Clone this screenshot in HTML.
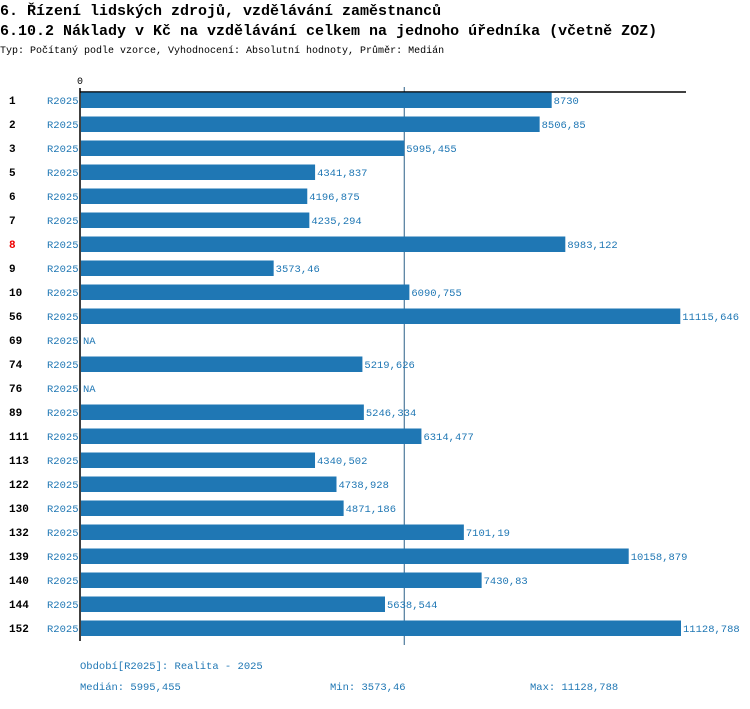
<!DOCTYPE html>
<html><head><meta charset="utf-8"><style>
body{margin:0;background:#fff;width:750px;height:704px;overflow:hidden;font-family:"Liberation Mono",monospace}
svg text{font-family:"Liberation Mono",monospace}
</style></head><body>
<svg id="c" width="750" height="704">
<text x="0" y="15" font-size="15" font-weight="bold">6. Řízení lidských zdrojů, vzdělávání zaměstnanců</text>
<text x="0" y="35" font-size="15" font-weight="bold">6.10.2 Náklady v Kč na vzdělávání celkem na jednoho úředníka (včetně ZOZ)</text>
<text x="0" y="53" font-size="10">Typ: Počítaný podle vzorce, Vyhodnocení: Absolutní hodnoty, Průměr: Medián</text>
<text x="77" y="84" font-size="10">0</text>
<line id="med" y1="87" y2="645" stroke="#2a5f88" stroke-width="1"/>
<line x1="80" y1="92" x2="686" y2="92" stroke="#000" stroke-width="1.5"/>
<line x1="80" y1="88" x2="80" y2="641" stroke="#000" stroke-width="1.5"/>
<g id="bars"></g>
<text x="80" y="669" font-size="10.5" fill="#1f77b4">Období[R2025]: Realita - 2025</text>
<text x="80" y="690" font-size="10.5" fill="#1f77b4">Medián: 5995,455</text>
<text x="330" y="690" font-size="10.5" fill="#1f77b4">Min: 3573,46</text>
<text x="530" y="690" font-size="10.5" fill="#1f77b4">Max: 11128,788</text>
</svg>
<script>
const categories=["1","2","3","5","6","7","8","9","10","56","69","74","76","89","111","113","122","130","132","139","140","144","152"];
const values=[8730,8506.85,5995.455,4341.837,4196.875,4235.294,8983.122,3573.46,6090.755,11115.646,null,5219.626,null,5246.334,6314.477,4340.502,4738.928,4871.186,7101.19,10158.879,7430.83,5638.544,11128.788];
const median=5995.455;
const maxV=11128.788;
const x=v=>81+v*600/maxV;
const y=i=>100+i*24;
const NS="http://www.w3.org/2000/svg";
const g=document.getElementById('bars');
function mk(t,a){const e=document.createElementNS(NS,t);for(const k in a)e.setAttribute(k,a[k]);return e;}
const fmt=v=>String(v).replace('.',',');
categories.forEach((c,i)=>{
  const l=mk('text',{x:9,y:y(i)+4,'font-size':11,'font-weight':'bold',fill:c==="8"?"#e00":"#000"});
  
  
  l.textContent=c;g.appendChild(l);
  const s=mk('text',{x:47,y:y(i)+4,'font-size':10.5,fill:'#1f77b4'});
  
  
  s.textContent='R2025';g.appendChild(s);
  const v=values[i];
  if(v!==null){
    const r=mk('rect',{x:81,y:y(i)-7.5,width:x(v)-81,height:15.5,fill:'#1f77b4'});
    
    
    g.appendChild(r);
  }
  const t=mk('text',{x:(v===null?81:x(v))+2,y:y(i)+4,'font-size':10.5,fill:'#1f77b4'});
  
  
  t.textContent=v===null?'NA':fmt(v);g.appendChild(t);
});
const m=document.getElementById('med');m.setAttribute('x1',x(median));m.setAttribute('x2',x(median));
</script>
</body></html>
